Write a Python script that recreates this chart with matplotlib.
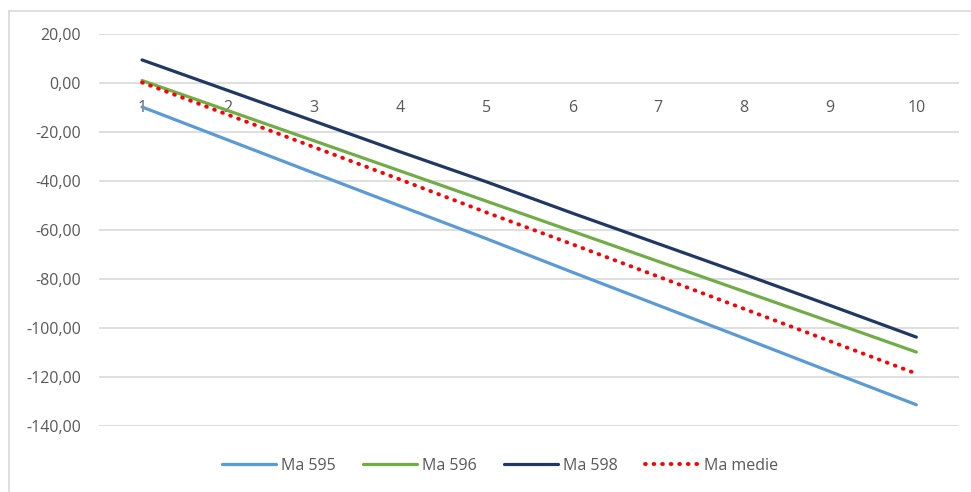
import matplotlib
matplotlib.use("Agg")
import matplotlib.pyplot as plt
from matplotlib.lines import Line2D

plt.rcParams['font.family'] = ['Open Sans', 'DejaVu Sans']

categories = [1, 2, 3, 4, 5, 6, 7, 8, 9, 10]
ma_595 = [-9.8, -23.3, -36.8, -50.2, -63.5, -77.2, -90.7, -104.2, -117.8, -131.3]
ma_596 = [1.0, -11.3, -23.6, -35.9, -48.2, -60.5, -72.8, -85.1, -97.4, -109.8]
ma_598 = [9.4, -3.1, -15.6, -28.1, -40.3, -53.1, -65.6, -78.1, -90.8, -103.7]
ma_medie = [0.2, -13.0, -26.2, -39.4, -52.8, -65.8, -79.0, -92.2, -105.4, -118.6]
y_ticks = [20, 0, -20, -40, -60, -80, -100, -120, -140]

fig = plt.figure(figsize=(9.71, 4.92), dpi=100)
ax = fig.add_axes([0.102, 0.134, 0.886, 0.797])

lw = 2.3
ax.plot(categories, ma_595, color='#5B9BD5', lw=lw, label='Ma 595', solid_capstyle='round')
ax.plot(categories, ma_596, color='#70AD47', lw=lw, label='Ma 596', solid_capstyle='round')
ax.plot(categories, ma_598, color='#203864', lw=lw, label='Ma 598', solid_capstyle='round')
ax.plot(categories, ma_medie, color='#FF0000', lw=2.8, label='Ma medie',
        linestyle=(0, (0.2, 2.0)), dash_capstyle='round')

ax.set_xlim(0.5, 10.5)
ax.set_ylim(-140, 20)
ax.set_yticks(y_ticks)
ax.set_yticklabels([f"{v:.2f}".replace('.', ',') for v in y_ticks])
ax.set_xticks(categories)
ax.set_xticklabels([str(c) for c in categories])
ax.grid(axis='y', color='#D9D9D9', lw=1.2)
ax.set_axisbelow(True)
for s in ['top', 'right', 'left']:
    ax.spines[s].set_visible(False)
ax.spines['bottom'].set_position(('data', 0))
ax.spines['bottom'].set_visible(False)
ax.tick_params(axis='x', length=0, pad=12, labelsize=11.5, labelcolor='#595959')
ax.tick_params(axis='y', length=0, pad=13, labelsize=11.5, labelcolor='#595959')

ax.legend(loc='center', bbox_to_anchor=(0.515, 0.053), bbox_transform=fig.transFigure,
          ncol=4, frameon=False, fontsize=11.5, handlelength=3.4, columnspacing=1.7,
          handletextpad=0.3, labelcolor='#595959')

# outer chart border
fig.add_artist(Line2D([9/971, 9/971], [0, 1 - 11/492], color='#D9D9D9', lw=1.2, transform=fig.transFigure))
fig.add_artist(Line2D([9/971, 1], [1 - 11/492, 1 - 11/492], color='#D9D9D9', lw=1.2, transform=fig.transFigure))

fig.savefig("out.png", dpi=100)
